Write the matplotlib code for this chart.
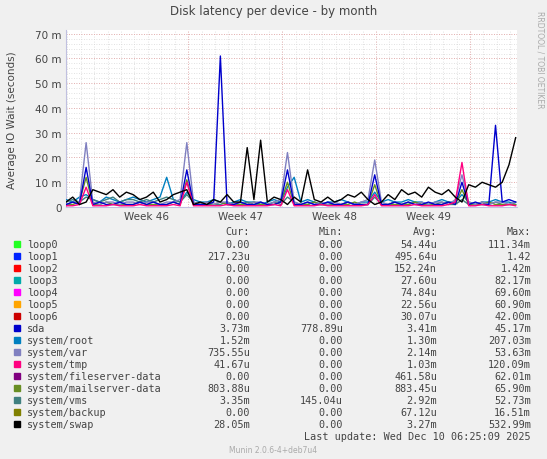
import numpy as np
import matplotlib
matplotlib.use('Agg')
import matplotlib.pyplot as plt

# 12-hourly samples, values in ms
swap = [2,4,1,2,7,6,5,7,4,6, 5,3,4,6,2,3,5,6,7,1, 2,1,3,2,5,2,2,24,3,27,
        2,4,3,1,4,2,15,3,2,4, 2,3,5,4,6,3,1,2,5,3, 7,5,6,4,8,6,5,7,4,2,
        9,8,10,9,8,10,17,28]
sda = [1,2,1,16,1,2,1,1,2,1, 1,2,1,2,1,1,2,1,15,1, 1,1,2,61,1,1,2,1,1,2,
       1,1,2,15,1,1,2,1,1,2, 1,1,2,1,1,1,13,1,1,2, 1,2,1,1,2,1,1,2,1,10,
       1,2,1,1,33,2,3,2]
var = [1,2,2,26,2,1,2,2,1,2, 2,1,2,2,1,2,2,3,26,2, 1,2,1,2,2,1,2,1,2,2,
       1,2,3,22,2,1,2,1,2,1, 2,1,2,1,2,3,19,2,1,2, 1,2,1,2,1,2,2,1,3,13,
       2,1,2,1,2,2,1,2]
tmp = [0.5,0.5,1,8,0.5,0.5,0.5,1,0.5,0.5, 0.5,1,0.5,0.5,0.5,0.5,1,0.5,10,0.5,
       0.5,0.5,0.5,0.5,1,0.5,0.5,0.5,0.5,0.5, 0.5,1,0.5,7,0.5,0.5,0.5,0.5,1,0.5,
       0.5,0.5,0.5,0.5,0.5,1,5,0.5,0.5,0.5, 0.5,0.5,1,0.5,0.5,0.5,0.5,1,2,18,
       0.5,0.5,1,0.5,0.5,0.5,1,0.5]
root = [3,2,4,5,3,2,4,3,2,3, 4,3,2,3,4,12,3,2,6,3, 2,2,3,2,1,2,3,2,2,1,
        2,3,2,8,12,2,3,2,1,2, 2,3,2,1,2,2,6,2,3,2, 2,3,2,2,1,2,3,2,2,5,
        2,1,2,2,3,2,2,1]
mail = [1,1,2,12,1,1,2,1,1,1, 1,2,1,1,1,1,2,1,11,1, 1,1,1,2,1,1,1,1,2,1,
        1,1,2,10,1,1,1,2,1,1, 1,1,1,2,1,1,9,1,1,1, 1,1,2,1,1,1,1,2,1,7,
        1,1,1,2,1,1,1,1]
vms = [2,3,2,4,3,2,3,4,2,3, 3,2,3,2,3,4,3,2,5,2, 1,2,1,1,2,1,1,2,1,1,
       1,2,1,4,2,1,1,2,1,1, 1,1,2,1,1,1,4,1,1,2, 1,1,2,1,1,1,2,1,1,3,
       1,1,2,1,2,1,1,2]

names = ['loop0', 'loop1', 'loop2', 'loop3', 'loop4', 'loop5', 'loop6', 'sda',
         'system/root', 'system/var', 'system/tmp', 'system/fileserver-data',
         'system/mailserver-data', 'system/vms', 'system/backup', 'system/swap']
colors = ['#22ff22', '#0022ff', '#ff0000', '#00aaaa', '#ff00ff', '#ffa500', '#cc0000',
          '#0000cc', '#0080c0', '#8080c0', '#ff0080', '#800080', '#688e23',
          '#408080', '#808000', '#000000']
cur = ['0.00', '217.23u', '0.00', '0.00', '0.00', '0.00', '0.00', '3.73m', '1.52m',
       '735.55u', '41.67u', '0.00', '803.88u', '3.35m', '0.00', '28.05m']
mins = ['0.00', '0.00', '0.00', '0.00', '0.00', '0.00', '0.00', '778.89u', '0.00',
        '0.00', '0.00', '0.00', '0.00', '145.04u', '0.00', '0.00']
avgs = ['54.44u', '495.64u', '152.24n', '27.60u', '74.84u', '22.56u', '30.07u', '3.41m',
        '1.30m', '2.14m', '1.03m', '461.58u', '883.45u', '2.92m', '67.12u', '3.27m']
maxs = ['111.34m', '1.42', '1.42m', '82.17m', '69.60m', '60.90m', '42.00m', '45.17m',
        '207.03m', '53.63m', '120.09m', '62.01m', '65.90m', '52.73m', '16.51m', '532.99m']
week_labels = ['Week 46', 'Week 47', 'Week 48', 'Week 49']
week_lines = [9.1, 16.1, 23.1, 30.1]
week_label_pos = [6.0, 13.0, 20.0, 27.0]

series = {'system/root': root, 'system/vms': vms, 'system/mailserver-data': mail,
          'system/var': var, 'sda': sda, 'system/tmp': tmp, 'system/swap': swap}

bg = '#f0f0f0'
txt = '#444444'
mono = 'DejaVu Sans Mono'
fig = plt.figure(figsize=(5.47, 4.60), dpi=100, facecolor=bg)
ax = fig.add_axes([66/547, 1-208/460, 451/547, 177/460])
ax.set_facecolor('white')

days = np.arange(len(swap)) * 0.5
for name, vals in series.items():
    c = colors[names.index(name)]
    ax.plot(days, vals, color=c, lw=1, zorder=3)

ax.set_xlim(0, 33.6)
ax.set_ylim(0, 71.5)
ax.set_yticks(range(0, 71, 10))
ax.set_yticklabels(['0'] + [f'{v} m' for v in range(10, 71, 10)], fontsize=7.5, color=txt)
ax.set_xticks(week_label_pos)
ax.set_xticklabels(week_labels, fontsize=7.5, color=txt)
ax.tick_params(length=0, which='both', pad=3)
for d in np.arange(0.1, 33.6, 1.0):
    ax.axvline(d, color='#d8d8d8', lw=0.6, ls=(0, (1, 2)), zorder=1)
for w in week_lines:
    ax.axvline(w, color='#e8a0a0', lw=0.6, ls=(0, (1, 2)), zorder=1)
for y in range(2, 71, 2):
    ax.axhline(y, color='#d8d8d8', lw=0.6, ls=(0, (1, 2)), zorder=1)
for y in range(10, 71, 10):
    ax.axhline(y, color='#e8a0a0', lw=0.6, ls=(0, (1, 2)), zorder=1)
for s in ['top', 'right']:
    ax.spines[s].set_visible(False)
for s in ['left', 'bottom']:
    ax.spines[s].set_color('#c0c0e0')

fig.text(0.5, 1-12/460, 'Disk latency per device - by month', ha='center', va='center',
         fontsize=8.5, color=txt)
fig.text(12/547, 1-120/460, 'Average IO Wait (seconds)', rotation=90, ha='center',
         va='center', fontsize=7.5, color=txt)
fig.text(540/547, 1-60/460, 'RRDTOOL / TOBI OETIKER', rotation=270, ha='center',
         va='center', fontsize=5.5, color='#aaaaaa')

fs = 7.3
hy = 232
for xpx, h in [(250, 'Cur:'), (343, 'Min:'), (437, 'Avg:'), (531, 'Max:')]:
    fig.text(xpx/547, 1-hy/460, h, ha='right', va='center', fontsize=fs, family=mono, color=txt)
for i, n in enumerate(names):
    y = 1 - (245 + i * 12) / 460
    fig.patches.append(plt.Rectangle((14/547, y - 3/460), 6/547, 6/460, color=colors[i],
                                     transform=fig.transFigure, figure=fig))
    fig.text(27/547, y, n, va='center', fontsize=fs, family=mono, color=txt)
    fig.text(250/547, y, cur[i], ha='right', va='center', fontsize=fs, family=mono, color=txt)
    fig.text(343/547, y, mins[i], ha='right', va='center', fontsize=fs, family=mono, color=txt)
    fig.text(437/547, y, avgs[i], ha='right', va='center', fontsize=fs, family=mono, color=txt)
    fig.text(531/547, y, maxs[i], ha='right', va='center', fontsize=fs, family=mono, color=txt)
fig.text(531/547, 1-437/460, 'Last update: Wed Dec 10 06:25:09 2025', ha='right', va='center',
         fontsize=fs, family=mono, color=txt)
fig.text(273/547, 1-451/460, 'Munin 2.0.6-4+deb7u4', ha='center', va='center',
         fontsize=5.5, color='#aaaaaa')

fig.savefig('out.png', dpi=100, facecolor=bg)
